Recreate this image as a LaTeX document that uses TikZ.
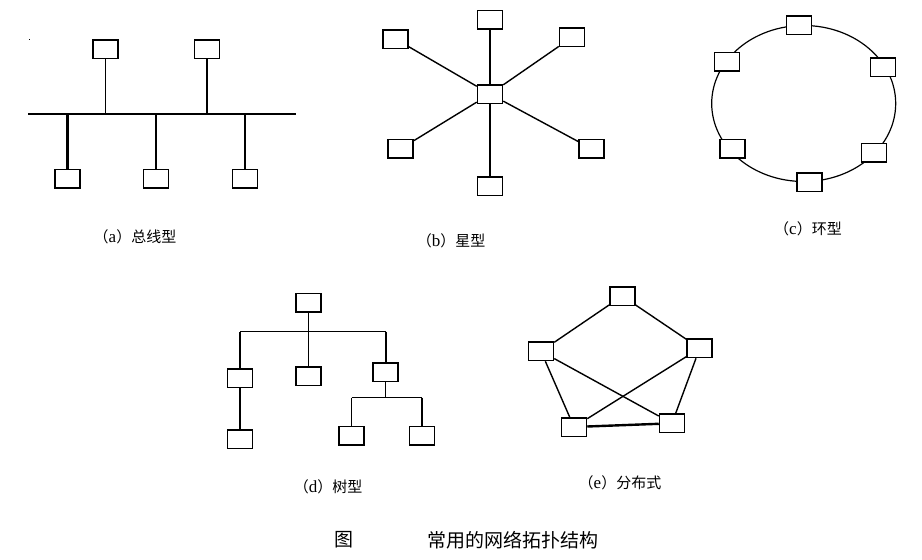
\documentclass[tikz,border=0pt]{standalone}
\usepackage{fontspec}
\newfontfamily\cjk{Noto Sans CJK SC}
\newfontfamily\lat{Liberation Serif}
\usetikzlibrary{shapes.geometric}
\begin{document}
\begin{tikzpicture}[x=1pt,y=-1pt,
  box/.style={draw,line width=1.5pt,fill=white,minimum width=25pt,minimum height=18.5pt,inner sep=0pt},
  wire/.style={line width=1.4pt},
  thickwire/.style={line width=2.3pt},
  lab/.style={font=\cjk\fontsize{15}{18}\selectfont,inner sep=0pt},
  captext/.style={font=\cjk\fontsize{19}{22}\selectfont,inner sep=0pt}]
\useasboundingbox (0,0) rectangle (922,560);
% stray dot
\fill (28.5,38.5) rectangle (30,40);
% (a) bus
\coordinate (busL) at (28,114);
\coordinate (busR) at (296,114);
\node[box] (a1) at (105.5,49) {};
\node[box] (a2) at (207,49) {};
\node[box] (a3) at (67.5,178.5) {};
\node[box] (a4) at (156,178.5) {};
\node[box] (a5) at (245,178.5) {};
\draw[line width=2.6pt] (busL) -- (busR);
\draw[wire] (a1) -- (a1 |- busL);
\draw[wire] (a2) -- (a2 |- busL);
\draw[thickwire] (a3) -- (a3 |- busL);
\draw[thickwire] (a4) -- (a4 |- busL);
\draw[thickwire] (a5) -- (a5 |- busL);
\node[lab] (la) at (135,237) {（{\lat\fontsize{17}{18}\selectfont a}）总线型};
% (b) star
\node[box] (s0) at (490,94) {};
\node[box] (s1) at (490,19.7) {};
\node[box] (s2) at (395.5,39) {};
\node[box] (s3) at (572,37.3) {};
\node[box] (s4) at (400.7,148.7) {};
\node[box] (s5) at (591.7,148.8) {};
\node[box] (s6) at (490,186) {};
\foreach \n in {s1,s2,s3,s4,s5,s6} \draw[wire] (s0) -- (\n);
\node[lab] (lb) at (451,241) {（{\lat\fontsize{17}{18}\selectfont b}）星型};
% (c) ring
\node[ellipse,draw,line width=1.2pt,minimum width=184pt,minimum height=156pt,inner sep=0pt] (ring) at (803.7,103.5) {};
\node[box] (r1) at (799,25) {};
\node[box] (r2) at (883,67) {};
\node[box] (r3) at (727,61.7) {};
\node[box] (r4) at (732.7,148.8) {};
\node[box] (r5) at (874,152.7) {};
\node[box] (r6) at (809.7,182) {};
\node[lab] (lc) at (808,229) {（{\lat\fontsize{17}{18}\selectfont c}）环型};
% (d) tree
\node[box] (t0) at (308.3,302.5) {};
\node[box] (t1) at (240,378.3) {};
\node[box] (t2) at (308.3,376) {};
\node[box] (t3) at (385.5,372.3) {};
\node[box] (t4) at (240,439) {};
\node[box] (t5) at (351.7,435.7) {};
\node[box] (t6) at (422,435.7) {};
\coordinate (tbl) at (240,331.7);
\coordinate (tbr) at (386,331.7);
\coordinate (tsl) at (351.7,397.7);
\coordinate (tsr) at (422,397.7);
\draw[wire] (tbl) -- (tbr);
\draw[wire] (t0) -- (t2);
\draw[wire] (tbl) -- (t1);
\draw[wire] (tbr) -- (tbr |- t3.north);
\draw[wire] (t1) -- (t4);
\draw[wire] (t3) -- (t3 |- tsl);
\draw[wire] (tsl) -- (tsr);
\draw[wire] (tsl) -- (t5);
\draw[wire] (tsr) -- (t6);
\node[lab] (ld) at (328,487) {（{\lat\fontsize{17}{18}\selectfont d}）树型};
% (e) distributed
\node[box] (e1) at (622.3,296) {};
\node[box] (e2) at (541,351.3) {};
\node[box] (e3) at (699.7,348.3) {};
\node[box] (e4) at (574,427) {};
\node[box] (e5) at (672,423.3) {};
\draw[wire] (e1) -- (e2);
\draw[wire] (e1) -- (e3);
\draw[wire] (e2) -- (e4);
\draw[wire] (e2) -- (e5);
\draw[wire] (e3) -- (e4);
\draw[wire] (e3) -- (e5);
\draw[line width=2.4pt] (e4) -- (e5);
\node[lab] (le) at (620,483) {（{\lat\fontsize{17}{18}\selectfont e}）分布式};
% caption
\node[captext] (c1) at (344,540) {图};
\node[captext] (c2) at (513,540) {常用的网络拓扑结构};
\end{tikzpicture}
\end{document}
